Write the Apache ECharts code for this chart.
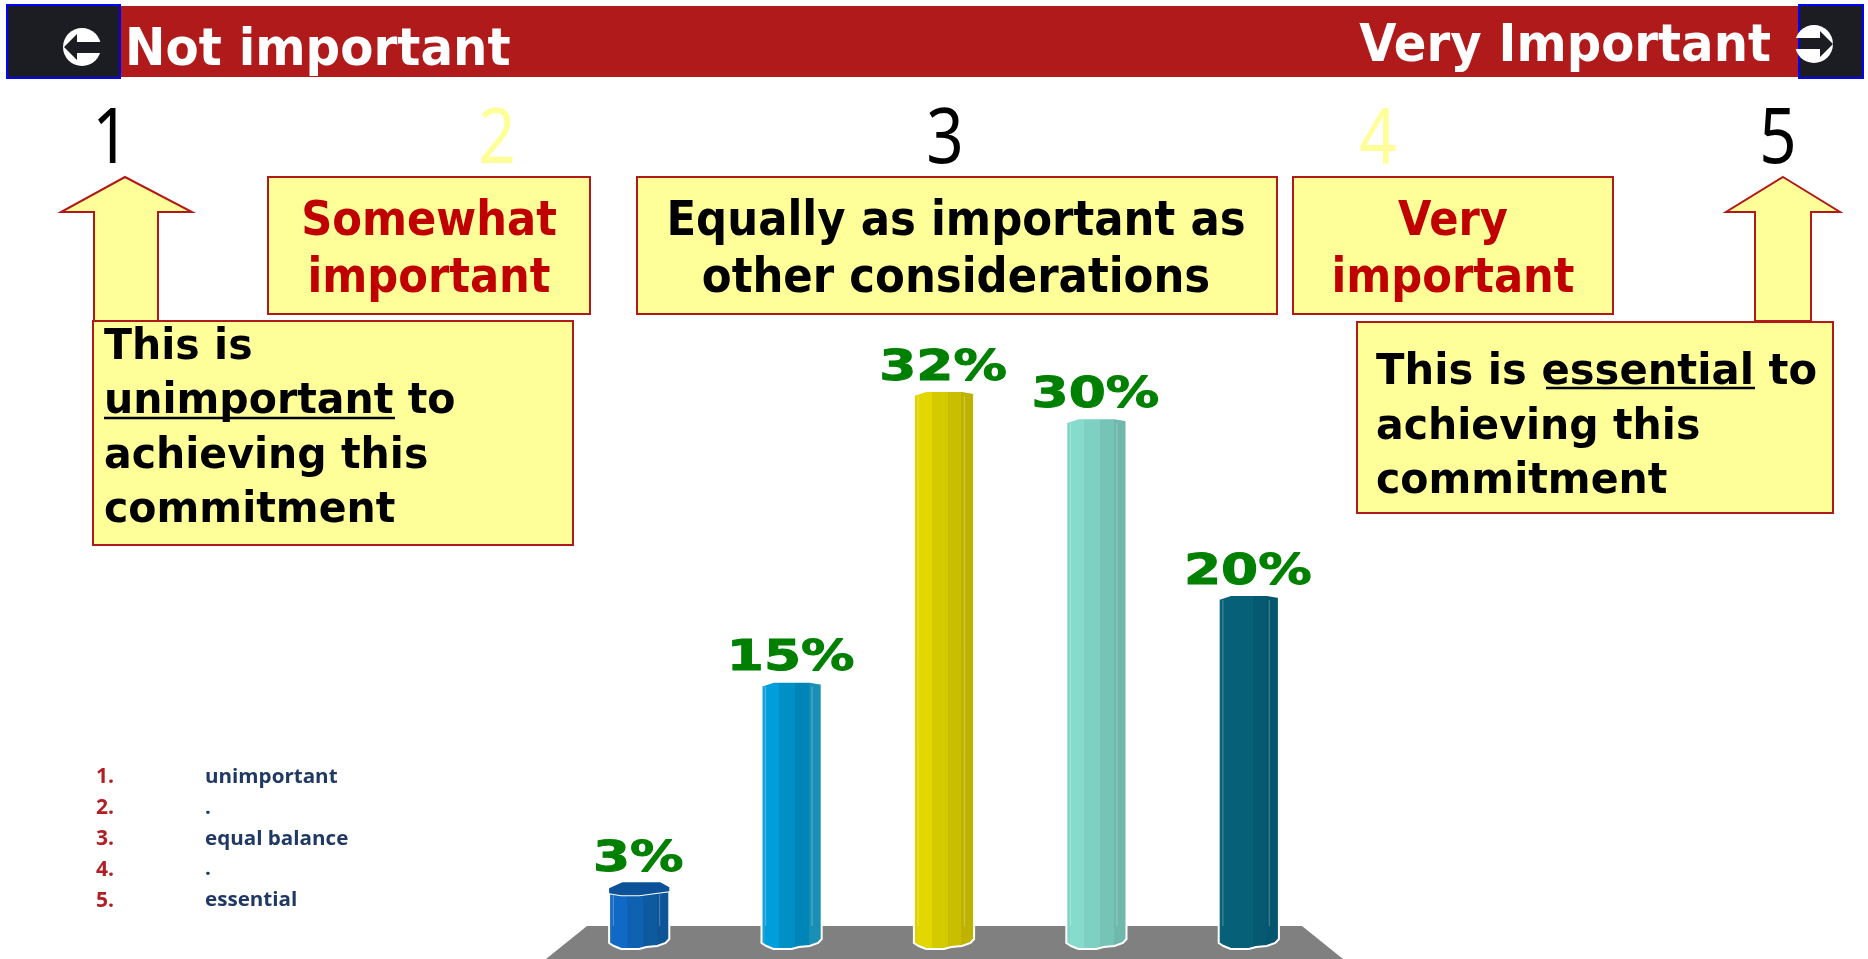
<!DOCTYPE html>
<html>
<head>
<meta charset="utf-8">
<title>Importance</title>
<style>
  html, body { margin: 0; padding: 0; background: #fff; }
  #chart { width: 1868px; height: 959px; }
</style>
<script src="https://cdn.jsdelivr.net/npm/echarts@6/dist/echarts.min.js"></script>
</head>
<body>
<div id="chart"></div>
<script>
// chart values
const categories = ["1", "2", "3", "4", "5"];
const percentValues = [3.1, 14.9, 32, 30.4, 20];
const legendNumbers = ["1.", "2.", "3.", "4.", "5."];
const legendLabels = ["unimportant", ".", "equal balance", ".", "essential"];
const headerLeft = "Not important";
const headerRight = "Very Important";
const scaleNumbers = ["1", "2", "3", "4", "5"];
const scaleColors = ["#000000", "#ffff99", "#000000", "#ffff99", "#000000"];
const boxSomewhat = ["Somewhat", "important"];
const boxEqual = ["Equally as important as", "other considerations"];
const boxVery = ["Very", "important"];
const noteLeft = ["This is", "unimportant to", "achieving this", "commitment"];
const noteRight = ["This is essential to", "achieving this", "commitment"];

// left to right shading of each column: light edge, light, mid, dark, darkest
const barShades = [
  ["#1a6cbc", "#1069c4", "#0f62b2", "#0e5a9f", "#0d5596"],
  ["#1ba3d8", "#009fdc", "#0090c6", "#0086b6", "#1a8fb6"],
  ["#dcd20c", "#e2d800", "#d4ca00", "#c9bf00", "#bdb300"],
  ["#7fd6c6", "#85dccc", "#7ed0c2", "#76c4b6", "#6fb8ac"],
  ["#056078", "#056078", "#056078", "#055a72", "#04566e"]
];
const capColor = "#0b5298";

const FONT = "'DejaVu Sans'";
const YELLOW = "#ffff99";
const EDGE = "#b01a1a";
const DARKRED = "#c00000";
const NAVY = "#1f3864";

function txt(x, y, str, size, color, align, sx, weight, family) {
  return {
    type: "text", x: x, y: y, scaleX: sx || 1, z: 20,
    style: {
      text: str, fill: color, align: align || "left", verticalAlign: "middle",
      font: (weight || "bold") + " " + size + "px " + (family || FONT)
    }
  };
}
function rect(x, y, w, h, fill, stroke, lw, z) {
  return {
    type: "rect", z: z || 10, shape: { x: x, y: y, width: w, height: h },
    style: { fill: fill, stroke: stroke || null, lineWidth: lw || 0 }
  };
}
function poly(points, fill, stroke, lw, z) {
  return {
    type: "polygon", z: z || 10, shape: { points: points },
    style: { fill: fill, stroke: stroke || null, lineWidth: lw || 0 }
  };
}
function line(x1, y1, x2, y2, color, lw, z) {
  return {
    type: "line", z: z || 20, shape: { x1: x1, y1: y1, x2: x2, y2: y2 },
    style: { stroke: color, lineWidth: lw }
  };
}
function circle(cx, cy, r, fill) {
  return { type: "circle", z: 12, shape: { cx: cx, cy: cy, r: r }, style: { fill: fill } };
}

const els = [];
// floor under the columns
els.push(poly([[587, 926], [1302, 926], [1343, 959], [546, 959]], "#808080", null, 0, 0));
// header
els.push(rect(98, 6, 1704, 71, "#b11a1a", null, 0, 5));
els.push(rect(7, 5, 113, 73, "#1c1d22", "#0000ff", 2, 6));
els.push(rect(1799, 5, 64, 73, "#1c1d22", "#0000ff", 2, 6));
els.push(circle(82, 47, 19, "#ffffff"));
els.push(poly([[64, 47], [77, 34], [77, 42], [102, 42], [102, 53], [77, 53], [77, 60]], "#1c1d22", null, 0, 13));
els.push(circle(1814, 44, 19, "#ffffff"));
els.push(poly([[1799, 38], [1820, 38], [1820, 31], [1833, 44], [1820, 57], [1820, 49], [1799, 49]], "#1c1d22", null, 0, 13));
els.push(rect(1792, 38, 7, 11, "#b11a1a", null, 0, 13));
els.push(line(1799, 38, 1799, 49, "#0000ff", 2, 14));
els.push(txt(125, 51, headerLeft, 52, "#ffffff", "left", 0.93));
els.push(txt(1771, 47, headerRight, 52, "#ffffff", "right", 0.927));
// 1 to 5 numbers
[111, 497, 945, 1378, 1778].forEach((x, i) => {
  els.push(txt(x, 141, scaleNumbers[i], 77, scaleColors[i], "center", 0.85, "normal", "'Noto Sans'"));
});
// arrows
els.push(poly([[125, 177], [192, 212], [158, 212], [158, 321], [94, 321], [94, 212], [61, 212]], YELLOW, EDGE, 2));
els.push(poly([[1783, 177], [1840, 212], [1811, 212], [1811, 321], [1755, 321], [1755, 212], [1726, 212]], YELLOW, EDGE, 2));
// three label boxes
els.push(rect(268, 177, 322, 137, YELLOW, EDGE, 2));
els.push(rect(637, 177, 640, 137, YELLOW, EDGE, 2));
els.push(rect(1293, 177, 320, 137, YELLOW, EDGE, 2));
boxSomewhat.forEach((s, i) => els.push(txt(429, 223 + i * 57, s, 48, DARKRED, "center", 0.9)));
boxEqual.forEach((s, i) => els.push(txt(956, 223 + i * 57, s, 48, "#000000", "center", 0.905)));
boxVery.forEach((s, i) => els.push(txt(1453, 223 + i * 57, s, 48, DARKRED, "center", 0.9)));
// the two notes
els.push(rect(93, 321, 480, 224, YELLOW, EDGE, 2));
els.push(rect(1357, 322, 476, 191, YELLOW, EDGE, 2));
noteLeft.forEach((s, i) => els.push(txt(104, 348 + i * 54.3, s, 43, "#000000", "left", 0.955)));
noteRight.forEach((s, i) => els.push(txt(1376, 373 + i * 54.5, s, 43, "#000000", "left", i === 0 ? 0.97 : 0.955)));
els.push(line(104, 418, 395, 418, "#000000", 2.5));
els.push(line(1546, 388, 1755, 388, "#000000", 2.5));
// list at the lower left
legendNumbers.forEach((s, i) => {
  els.push(txt(96, 777 + i * 30.9, s, 21, "#b11f24", "left", 1, "bold", "'Open Sans'"));
  els.push(txt(205, 777 + i * 30.9, legendLabels[i], 20, NAVY, "left", 1.03, "bold", "'Open Sans'"));
});

// bottom edge of a column, x as share of its width and drop in px
const bottomEdge = [[1, 0], [0.94, 4], [0.8, 7], [0.62, 8], [0.5, 10], [0.2, 10], [0.08, 7], [0, 4]];

function renderBar(params, api) {
  const idx = params.dataIndex;
  const v = api.value(1);
  const top = api.coord([api.value(0), v]);
  const base = api.coord([api.value(0), 0]);
  const w = api.size([1, 0])[0] * 0.395;
  const x0 = top[0] - w / 2;
  const shades = barShades[idx];
  const small = v < 5;
  const topY = top[1] + (small ? 9 : 2);
  const arch = small ? 4 : 2;

  const pts = [[x0, topY + 2], [x0 + w * 0.2, topY + arch], [x0 + w * 0.5, topY + arch], [x0 + w, topY]];
  if (!small) {
    pts[1] = [x0 + w * 0.2, topY - arch];
    pts[2] = [x0 + w * 0.8, topY - arch];
  }
  bottomEdge.forEach(p => pts.push([x0 + w * p[0], base[1] + 4 + p[1]]));

  const stops = [];
  [[0, 0.07, 0], [0.07, 0.3, 1], [0.3, 0.56, 2], [0.56, 0.78, 3], [0.78, 1, 4]].forEach(s => {
    stops.push({ offset: s[0], color: shades[s[2]] }, { offset: s[1], color: shades[s[2]] });
  });
  const children = [{
    type: "polygon", shape: { points: pts },
    style: {
      fill: { type: "linear", x: 0, y: 0, x2: 1, y2: 0, colorStops: stops },
      stroke: "#ffffff", lineWidth: 2
    }
  }];
  // thin lighter ribs in the column
  [0.07, 0.84].forEach(f => children.push({
    type: "line",
    shape: { x1: x0 + w * f, y1: topY + 3, x2: x0 + w * f, y2: base[1] - 9 },
    style: { stroke: "rgba(255,255,255,0.3)", lineWidth: 1 }
  }));
  if (small) {
    children.push({
      type: "polygon",
      shape: { points: [[x0, top[1] + 6], [x0 + w * 0.22, top[1]], [x0 + w * 0.85, top[1]], [x0 + w, top[1] + 5], [x0 + w, topY], [x0 + w * 0.5, topY + arch], [x0 + w * 0.2, topY + arch], [x0, topY + 2]] },
      style: { fill: capColor }
    });
  }
  children.push({
    type: "text", x: top[0] - 1, y: top[1] - 1, scaleX: 1.24,
    style: {
      text: Math.round(v) + "%", fill: "#008000", align: "center", verticalAlign: "bottom",
      stroke: "#008000", lineWidth: 1,
      font: "bold 43px " + FONT
    }
  });
  return { type: "group", children: children };
}

const chart = echarts.init(document.getElementById("chart"));
chart.setOption({
  backgroundColor: "#ffffff",
  animation: false,
  grid: { left: 563, width: 762, top: 340, height: 595 },
  xAxis: { type: "category", data: categories, show: false },
  yAxis: { type: "value", min: 0, max: 35, show: false },
  graphic: { elements: els },
  series: [{
    type: "custom",
    z: 100,
    clip: false,
    renderItem: renderBar,
    encode: { x: 0, y: 1 },
    data: percentValues.map((v, i) => [i, v])
  }]
});
</script>
</body>
</html>
